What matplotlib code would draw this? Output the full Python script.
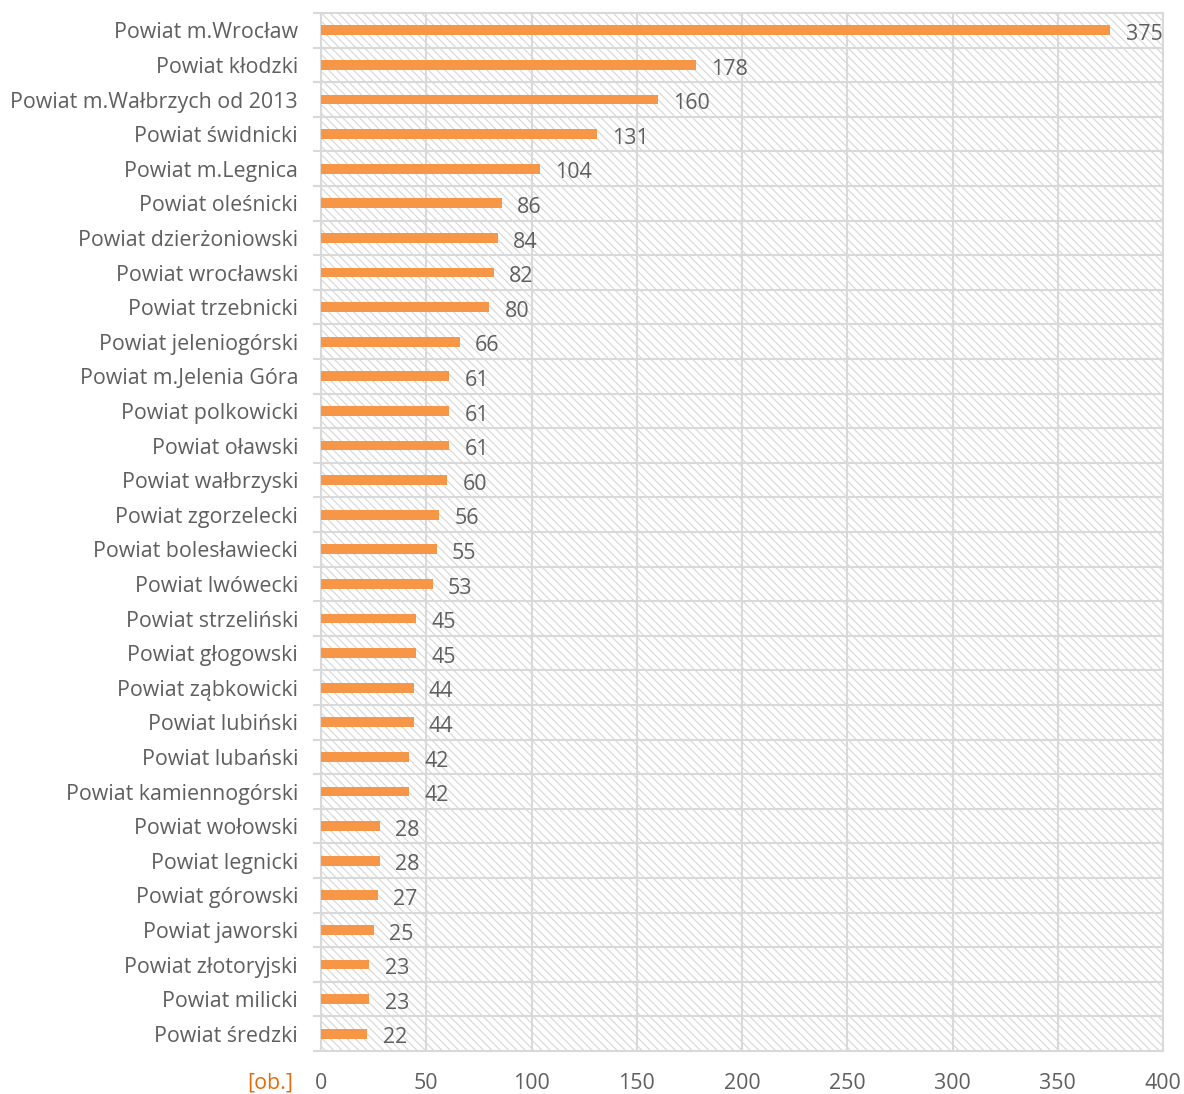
import matplotlib.pyplot as plt
import matplotlib.patches as patches

powiaty = ["Powiat m.Wrocław", "Powiat kłodzki", "Powiat m.Wałbrzych od 2013", "Powiat świdnicki",
           "Powiat m.Legnica", "Powiat oleśnicki", "Powiat dzierżoniowski", "Powiat wrocławski",
           "Powiat trzebnicki", "Powiat jeleniogórski", "Powiat m.Jelenia Góra", "Powiat polkowicki",
           "Powiat oławski", "Powiat wałbrzyski", "Powiat zgorzelecki", "Powiat bolesławiecki",
           "Powiat lwówecki", "Powiat strzeliński", "Powiat głogowski", "Powiat ząbkowicki",
           "Powiat lubiński", "Powiat lubański", "Powiat kamiennogórski", "Powiat wołowski",
           "Powiat legnicki", "Powiat górowski", "Powiat jaworski", "Powiat złotoryjski",
           "Powiat milicki", "Powiat średzki"]
wartosci = [375, 178, 160, 131, 104, 86, 84, 82, 80, 66, 61, 61, 61, 60, 56, 55, 53, 45, 45, 44,
            44, 42, 42, 28, 28, 27, 25, 23, 23, 22]
x_ticks = [0, 50, 100, 150, 200, 250, 300, 350, 400]

plt.rcParams['font.family'] = ['Open Sans', 'DejaVu Sans']
plt.rcParams['hatch.linewidth'] = 0.8

gray_txt = '#5f5f5f'
grid_c = '#D9D9D9'

fig = plt.figure(figsize=(11.84, 10.94), dpi=100)
ax = fig.add_axes([321 / 1184, 1 - 1051 / 1094, (1163 - 321) / 1184, (1051 - 13) / 1094])

n = len(powiaty)
pos = list(range(n))
# kreskowane tło obszaru wykresu
ax.add_patch(patches.Rectangle((0, 0), 1, 1, transform=ax.transAxes, facecolor='white',
                               edgecolor='#D6D6D6', linewidth=0, hatch='\\\\\\\\', zorder=0))
ax.barh(pos, wartosci, height=0.28, color='#F79646', zorder=3)
for p, v in zip(pos, wartosci):
    ax.annotate(str(v), (v, p), xytext=(11, -3), textcoords='offset points', va='center',
                ha='left', fontsize=15.4, color=gray_txt)

ax.set_xlim(0, 400)
ax.set_ylim(n - 0.5, -0.5)
ax.set_xticks(x_ticks)
ax.set_xticklabels([str(t) for t in x_ticks])
ax.set_yticks(pos)
ax.set_yticklabels(powiaty)
ax.tick_params(axis='x', length=0, pad=16, labelsize=15.4, labelcolor=gray_txt)
ax.tick_params(axis='y', length=0, pad=16.5, labelsize=15.4, labelcolor=gray_txt)
ax.set_yticks([i - 0.5 for i in range(n + 1)], minor=True)
ax.tick_params(axis='y', which='minor', length=6, width=1.5, color=grid_c)

ax.grid(axis='x', color=grid_c, linewidth=1.5, zorder=1)
ax.grid(axis='y', which='minor', color=grid_c, linewidth=1.5, zorder=1)
ax.set_axisbelow(True)
for s in ax.spines.values():
    s.set_color(grid_c)
    s.set_linewidth(1.5)

fig.text(270 / 1184, 1 - 1083 / 1094, "[ob.]", color='#E46C0A', fontsize=15.4, ha='center', va='center')

fig.savefig("out.png", dpi=100)
